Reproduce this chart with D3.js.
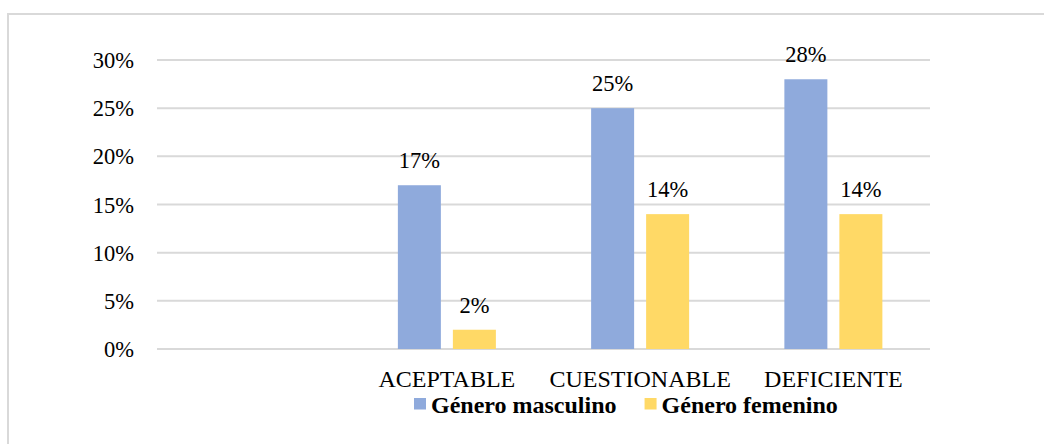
<!DOCTYPE html>
<html>
<head>
<meta charset="utf-8">
<script src="https://cdn.jsdelivr.net/npm/d3@7"></script>
<style>
  html, body { margin: 0; padding: 0; background: #ffffff; }
  svg { display: block; }
</style>
</head>
<body>
<svg id="chart" width="1044" height="444"></svg>
<script>
// Categories (the first slot is left empty, as in the source workbook)
const categories = ["", "ACEPTABLE", "CUESTIONABLE", "DEFICIENTE"];
const seriesNames = ["Género masculino", "Género femenino"];
const masculino = [null, 17, 25, 28];
const femenino = [null, 2, 14, 14];
const yTicks = [0, 5, 10, 15, 20, 25, 30];
const seriesColors = ["#8faadc", "#ffd966"];

const svg = d3.select("#chart");
const W = 1044, H = 444;
const serif = "'Liberation Serif', 'Times New Roman', serif";

// Outer chart frame (only top and left edges fall inside the window)
svg.append("rect")
  .attr("x", 8).attr("y", 14)
  .attr("width", W + 20).attr("height", H + 20)
  .attr("fill", "#ffffff")
  .attr("stroke", "#d9d9d9")
  .attr("stroke-width", 2);

const plot = { left: 157, right: 930, top: 60, bottom: 349 };

const x0 = d3.scaleBand()
  .domain(categories)
  .range([plot.left, plot.right])
  .paddingInner(0).paddingOuter(0);

const y = d3.scaleLinear()
  .domain([0, 30])
  .range([plot.bottom, plot.top]);

// Sub-band for the two series inside each category
const groupHalf = 49;
const x1 = d3.scaleBand()
  .domain(seriesNames)
  .range([x0.bandwidth() / 2 - groupHalf, x0.bandwidth() / 2 + groupHalf])
  .paddingInner(12 / 55).paddingOuter(0);

// Horizontal gridlines
svg.append("g")
  .selectAll("line")
  .data(yTicks)
  .join("line")
  .attr("x1", plot.left).attr("x2", plot.right)
  .attr("y1", d => y(d)).attr("y2", d => y(d))
  .attr("stroke", "#d9d9d9")
  .attr("stroke-width", 2);

// Y axis labels
const yAxis = d3.axisLeft(y)
  .tickValues(yTicks)
  .tickFormat(d => d + "%")
  .tickSize(0)
  .tickPadding(0);
const gy = svg.append("g")
  .attr("transform", `translate(${plot.left - 23},0)`)
  .call(yAxis);
gy.select(".domain").remove();
gy.selectAll("text")
  .attr("font-family", serif)
  .attr("font-size", 22.5)
  .attr("fill", "#000000")
  .attr("dy", "0.34em");

// X axis category labels
const xAxis = d3.axisBottom(x0).tickSize(0).tickPadding(0);
const gx = svg.append("g")
  .attr("transform", `translate(0,${plot.bottom})`)
  .call(xAxis);
gx.select(".domain").remove();
gx.selectAll("text")
  .attr("font-family", serif)
  .attr("font-size", 24)
  .attr("fill", "#000000")
  .attr("y", 37.5)
  .attr("dy", 0);

// Bars and value labels
const rows = [];
categories.forEach((c, i) => {
  [masculino, femenino].forEach((arr, s) => {
    if (arr[i] != null) rows.push({ cat: c, series: seriesNames[s], s, value: arr[i] });
  });
});

const groups = svg.append("g");
groups.selectAll("rect")
  .data(rows)
  .join("rect")
  .attr("x", d => x0(d.cat) + x1(d.series))
  .attr("y", d => y(d.value))
  .attr("width", x1.bandwidth())
  .attr("height", d => y(0) - y(d.value))
  .attr("fill", d => seriesColors[d.s]);

groups.selectAll("text")
  .data(rows)
  .join("text")
  .attr("x", d => x0(d.cat) + x1(d.series) + x1.bandwidth() / 2)
  .attr("y", d => y(d.value) - 17)
  .attr("text-anchor", "middle")
  .attr("font-family", serif)
  .attr("font-size", 22.5)
  .attr("fill", "#000000")
  .text(d => d.value + "%");

// Legend
const legend = svg.append("g").attr("transform", "translate(414,0)");
let lx = 0;
seriesNames.forEach((name, i) => {
  const item = legend.append("g").attr("transform", `translate(${lx},0)`);
  item.append("rect")
    .attr("x", 0).attr("y", 398)
    .attr("width", 12).attr("height", 11.5)
    .attr("fill", seriesColors[i]);
  const t = item.append("text")
    .attr("x", 17).attr("y", 412.5)
    .attr("font-family", serif)
    .attr("font-size", 24)
    .attr("font-weight", "bold")
    .attr("fill", "#000000")
    .text(name);
  lx += 17 + t.node().getComputedTextLength() + 28;
});
</script>
</body>
</html>
